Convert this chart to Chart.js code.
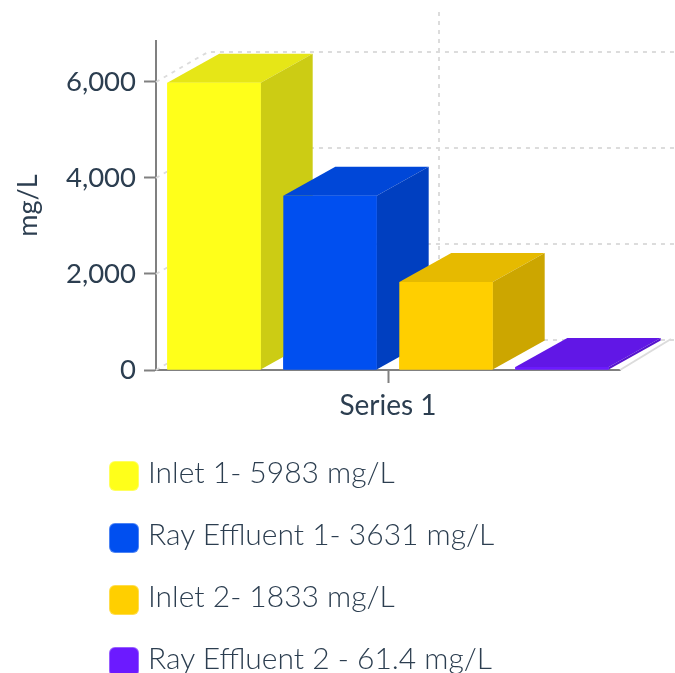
<!DOCTYPE html>
<html>
<head>
<meta charset="utf-8">
<title>mg/L</title>
<script src="https://cdn.jsdelivr.net/npm/chart.js@4"></script>
<style>
  html, body { margin:0; padding:0; background:#fff; overflow:hidden; }
  #wrap { position:relative; width:675px; height:673px; overflow:hidden; }
  #chart { position:absolute; left:0; top:0; }
  #legend { position:absolute; left:109px; top:461px; font-family:Lato, sans-serif; font-weight:300; font-size:30px; color:#2c3e50; }
  #legend div { position:relative; height:62px; padding-left:39px; line-height:20px; white-space:nowrap; }
  #legend span { position:absolute; left:0; top:0; width:30px; height:30px; box-sizing:border-box; border-radius:6px; border:1px solid rgba(255,255,255,.3); }
</style>
</head>
<body>
<div id="wrap">
  <canvas id="chart" width="675" height="673"></canvas>
  <div id="legend"></div>
</div>
<script>
const categories = ['Series 1'];
const seriesNames = ['Inlet 1- 5983 mg/L', 'Ray Effluent 1- 3631 mg/L', 'Inlet 2- 1833 mg/L', 'Ray Effluent 2 - 61.4 mg/L'];
const seriesValues = [5983, 3631, 1833, 61.4];
const frontColors = ['#FFFF1A', '#004FF0', '#FFCF00', '#6C1AFF'];
const topColors = ['#E6E617', '#0047D8', '#E6BA00', '#6117E6'];
const sideColors = ['#CCCC14', '#003FC0', '#CCA600', '#5615CC'];
const yTicks = [0, 2000, 4000, 6000];
const yMax = 6854;

const depthX = 52, depthY = 30;

function poly(ctx, pts, color) {
  ctx.fillStyle = color;
  ctx.beginPath();
  pts.forEach((p, i) => i ? ctx.lineTo(p[0], p[1]) : ctx.moveTo(p[0], p[1]));
  ctx.closePath();
  ctx.fill();
}

// back walls and floor, same scales as the bars
const wallPlugin = {
  id: 'walls',
  beforeDatasetsDraw(chart) {
    const ctx = chart.ctx, a = chart.chartArea, y = chart.scales.y, x = chart.scales.x;
    ctx.save();
    ctx.strokeStyle = '#dcdcdc';
    ctx.lineWidth = 2;
    ctx.setLineDash([4, 5]);
    yTicks.forEach(t => {
      const py = y.getPixelForValue(t);
      ctx.beginPath();
      ctx.moveTo(a.left, py);
      ctx.lineTo(a.left + depthX, py - depthY);
      ctx.lineTo(675, py - depthY);
      ctx.stroke();
    });
    const vx = x.getPixelForTick(0) + depthX - 1;
    ctx.beginPath();
    ctx.moveTo(vx, a.bottom - depthY);
    ctx.lineTo(vx, 10);
    ctx.stroke();
    ctx.setLineDash([]);
    ctx.beginPath();
    ctx.moveTo(a.right, a.bottom);
    ctx.lineTo(a.right + depthX - 1, a.bottom - depthY - 1);
    ctx.stroke();
    ctx.restore();
  }
};

// top and side faces from each bar element, left to right so nearer bars cover
const depthPlugin = {
  id: 'depth',
  afterDatasetsDraw(chart) {
    const ctx = chart.ctx, dy = depthY - 1;
    chart.data.datasets.forEach((ds, i) => {
      const bar = chart.getDatasetMeta(i).data[0];
      const l = bar.x - bar.width / 2, r = bar.x + bar.width / 2;
      poly(ctx, [[l, bar.y], [l + depthX, bar.y - dy], [r + depthX, bar.y - dy], [r, bar.y]], topColors[i]);
      poly(ctx, [[r, bar.y], [r + depthX, bar.y - dy], [r + depthX, bar.base - dy], [r, bar.base]], sideColors[i]);
      bar.draw(ctx);
    });
  }
};

document.addEventListener('DOMContentLoaded', () => {
  const legend = document.getElementById('legend');
  seriesNames.forEach((name, i) => {
    const row = document.createElement('div');
    const box = document.createElement('span');
    box.style.background = frontColors[i];
    row.appendChild(box);
    row.appendChild(document.createTextNode(name));
    legend.appendChild(row);
  });

  new Chart(document.getElementById('chart').getContext('2d'), {
    type: 'bar',
    data: {
      labels: categories,
      datasets: seriesNames.map((name, i) => ({
        label: name,
        data: [seriesValues[i]],
        backgroundColor: frontColors[i],
        borderWidth: 0,
        barPercentage: 0.805,
        categoryPercentage: 1
      }))
    },
    options: {
      responsive: false,
      animation: false,
      layout: { padding: { top: 41, right: 55, left: 0, bottom: 0 } },
      plugins: { legend: { display: false }, tooltip: { enabled: false } },
      scales: {
        x: {
          z: 1,
          afterFit(s) { s.height = 303; },
          // bars start a little right of the axis line
          afterUpdate(s) { s._startPixel += 2; s._length -= 2; },
          border: { color: '#808080', width: 2 },
          grid: { drawOnChartArea: false, offset: false, tickLength: 13, tickColor: '#808080', tickWidth: 2 },
          ticks: { color: '#2c3e50', font: { family: 'Lato', size: 28 }, padding: 6, maxRotation: 0 }
        },
        y: {
          z: 1,
          min: 0,
          max: yMax,
          afterFit(s) { s.width = 156; },
          border: { color: '#808080', width: 2 },
          grid: { drawOnChartArea: false, tickLength: 12, tickColor: '#808080', tickWidth: 2 },
          afterBuildTicks(s) { s.ticks = yTicks.map(v => ({ value: v })); },
          ticks: {
            color: '#2c3e50',
            font: { family: 'Lato', size: 27.5 },
            padding: 8,
            callback: v => v.toLocaleString('en-US')
          },
          title: { display: true, text: 'mg/L', color: '#2c3e50', font: { family: 'Lato', size: 27 }, padding: { top: 12, bottom: 0 } }
        }
      }
    },
    plugins: [wallPlugin, depthPlugin]
  });
});
</script>
</body>
</html>
